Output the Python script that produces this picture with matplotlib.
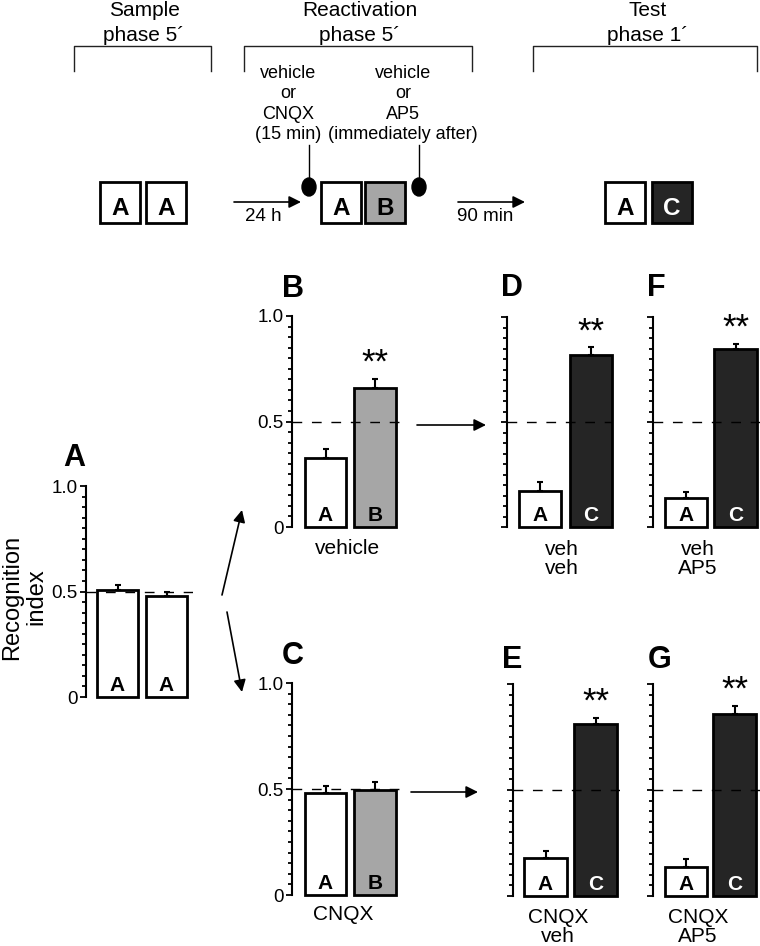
import matplotlib
matplotlib.use("Agg")
import matplotlib.pyplot as plt
from matplotlib.patches import Ellipse, Rectangle
from matplotlib.ticker import MultipleLocator

plt.rcParams["font.family"] = ["Liberation Sans", "DejaVu Sans"]

# recognition index (mean, upper SEM)
a_means = [0.505, 0.48]
a_errs = [0.025, 0.02]
b_means = [0.326, 0.66]
b_errs = [0.045, 0.04]
c_means = [0.483, 0.496]
c_errs = [0.032, 0.035]
d_means = [0.172, 0.818]
d_errs = [0.043, 0.037]
e_means = [0.18, 0.81]
e_errs = [0.03, 0.028]
f_means = [0.139, 0.85]
f_errs = [0.028, 0.02]
g_means = [0.138, 0.86]
g_errs = [0.035, 0.036]

sample_objects = ["A", "A"]
reactivation_objects = ["A", "B"]
test_objects = ["A", "C"]
group_labels = {"B": "vehicle", "C": "CNQX", "D": "veh\nveh", "E": "CNQX\nveh",
                "F": "veh\nAP5", "G": "CNQX\nAP5"}

W, H = 760, 946
WHITE, GRAY, DARK = "white", "#a6a6a6", "#252525"
fill = {"A": WHITE, "B": GRAY, "C": DARK}
ink = {"A": "black", "B": "black", "C": "white"}

fig = plt.figure(figsize=(W / 100, H / 100), dpi=100)

# overlay in pixel coordinates for the schematic and arrows
ov = fig.add_axes([0, 0, 1, 1])
ov.set_xlim(0, W)
ov.set_ylim(H, 0)
ov.axis("off")

# phase titles and brackets
for title, xc, x0, x1 in [("Sample\nphase 5\u00b4", 144, 74, 211),
                          ("Reactivation\nphase 5\u00b4", 360, 244, 472),
                          ("Test\nphase 1\u00b4", 648, 533, 757)]:
    ov.text(xc, 23, title, ha="center", va="center", fontsize=15, linespacing=1.35)
    ov.plot([x0, x0, x1, x1], [71, 46, 46, 71], color="#222222", lw=1)

# injection notes
ov.text(288, 104, "vehicle\nor\nCNQX\n(15 min)", ha="center", va="center",
        fontsize=13, linespacing=1.25)
ov.text(403, 104, "vehicle\nor\nAP5\n(immediately after)", ha="center", va="center",
        fontsize=13, linespacing=1.25)
for x in [309, 419]:
    ov.plot([x, x], [145, 180], color="black", lw=1)
    ov.add_patch(Ellipse((x, 187), 14, 18, color="black"))

# object boxes
def obj_box(x0, letter):
    ov.add_patch(Rectangle((x0, 182), 40, 41, facecolor=fill[letter],
                           edgecolor="black", lw=2))
    ov.text(x0 + 20, 215, letter, ha="center", va="baseline", fontsize=17.5,
            fontweight="bold", color=ink[letter])

for x0, letter in zip([100, 146], sample_objects):
    obj_box(x0, letter)
for x0, letter in zip([321, 365], reactivation_objects):
    obj_box(x0, letter)
for x0, letter in zip([605, 652], test_objects):
    obj_box(x0, letter)

def arrow(x0, y0, x1, y1, ms=18):
    ov.annotate("", xy=(x1, y1), xytext=(x0, y0),
                arrowprops=dict(arrowstyle="-|>", color="black", lw=1.2,
                                mutation_scale=ms, shrinkA=0, shrinkB=0))

arrow(234, 202, 301, 202)
arrow(458, 202, 525, 202)
ov.text(263, 216, "24 h", ha="center", va="center", fontsize=13.5)
ov.text(485, 216, "90 min", ha="center", va="center", fontsize=13.5)

# arrows between panels
arrow(222, 595, 242, 510)
arrow(227, 612, 242, 692)
arrow(417, 425, 486, 425)
arrow(411, 792, 478, 792)


def bar_panel(box, centers, width, means, errs, letters, show_labels=True, stars=False):
    x0, y_top, x1, y_bot = box
    ax = fig.add_axes([x0 / W, 1 - y_bot / H, (x1 - x0) / W, (y_bot - y_top) / H])
    ax.patch.set_alpha(0)
    step = centers[1] - centers[0]
    ax.set_xlim(-(centers[0] - x0) / step, 1 + (x1 - centers[1]) / step)
    ax.set_ylim(0, 1)
    bars = ax.bar([0, 1], means, width=width / step, color=[fill[l] for l in letters],
                  edgecolor="black", linewidth=2, zorder=2)
    for p in bars:
        p.set_clip_on(False)
    ax.errorbar([0, 1], means, yerr=[[0, 0], errs], fmt="none", ecolor="black",
                elinewidth=1.5, capsize=2, capthick=1.5, zorder=3, clip_on=False)
    ax.axhline(0.5, color="black", lw=1, dashes=(7, 7), zorder=4)
    for i, l in enumerate(letters):
        ax.text(i, 0.028, l, ha="center", va="baseline", fontsize=15,
                fontweight="bold", color=ink[l], zorder=5)
    if stars:
        ax.text(1, means[1] + errs[1] + 0.075, "**", ha="center", va="center",
                fontsize=25, clip_on=False)
    for s in ["top", "right", "bottom"]:
        ax.spines[s].set_visible(False)
    ax.spines["left"].set_linewidth(1.5)
    ax.set_xticks([])
    ax.set_yticks([0, 0.5, 1.0])
    ax.yaxis.set_minor_locator(MultipleLocator(0.05))
    ax.tick_params(axis="y", which="major", length=4, width=1.3, pad=2, labelsize=13.5)
    ax.tick_params(axis="y", which="minor", length=3, width=1.3)
    if show_labels:
        ax.set_yticklabels(["0", "0.5", "1.0"])
    else:
        ax.set_yticklabels([])
    return ax


bar_panel((86, 486, 193, 697), (117.5, 166.5), 41, a_means, a_errs, sample_objects)
bar_panel((292, 316, 400, 527), (325.5, 375), 41.5, b_means, b_errs, reactivation_objects, stars=True)
bar_panel((292, 683, 402, 895), (325.5, 375), 41.5, c_means, c_errs, reactivation_objects)
bar_panel((507, 317, 613, 527), (540, 590.5), 42, d_means, d_errs, test_objects, False, True)
bar_panel((513, 684, 620, 896), (545.5, 595.5), 43, e_means, e_errs, test_objects, False, True)
bar_panel((653, 317, 760, 527), (686, 735.5), 42.5, f_means, f_errs, test_objects, False, True)
bar_panel((653, 684, 760, 896), (686, 734.5), 42.5, g_means, g_errs, test_objects, False, True)

# panel letters
for letter, x, y in [("A", 74, 458), ("B", 293, 289), ("C", 293, 656), ("D", 512, 288),
                     ("E", 512, 660), ("F", 656, 288), ("G", 660, 660)]:
    ov.text(x, y, letter, ha="center", va="center", fontsize=22, fontweight="bold")

ov.text(24, 597, "Recognition\nindex", rotation=90, ha="center", va="center",
        fontsize=17, linespacing=1.15)

# group labels under panels
ov.text(347, 548, group_labels["B"], ha="center", va="center", fontsize=15)
ov.text(343, 914, group_labels["C"], ha="center", va="center", fontsize=15)
for key, x, y in [("D", 562, 559), ("F", 698, 559), ("E", 558, 927), ("G", 698, 927)]:
    ov.text(x, y, group_labels[key], ha="center", va="center", fontsize=15,
            linespacing=1.05)

fig.savefig("out.png", dpi=100)
